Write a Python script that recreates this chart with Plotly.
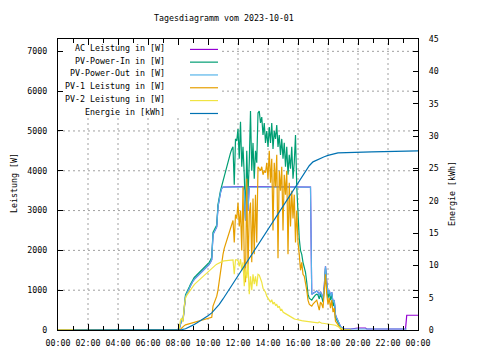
import pandas as pd
import plotly.graph_objects as go

DAY = "2023-10-01"
NEXT = "2023-10-02"

# 5-minute grid 08:00 .. 19:30 (139 samples)
grid = [t.strftime("%Y-%m-%d %H:%M") for t in pd.date_range(f"{DAY} 08:00", f"{DAY} 19:30", freq="5min")]

# ---- series values (W), one row per hour :00 .. :55 ----
pv_in = [
    0, 30, 150, 280, 250, 700, 880, 950, 1000, 1080, 1150, 1220,            # 08
    1280, 1320, 1350, 1380, 1410, 1440, 1470, 1500, 1530, 1560, 1590, 1620,  # 09
    1650, 1700, 1760, 1830, 2450, 2520, 2580, 2640, 3150, 3380, 3500, 3620,  # 10
    3750, 3860, 3960, 4080, 4200, 4330, 4450, 4540, 4600, 3650, 4800, 4750,  # 11
    5050, 4300, 5230, 4100, 4600, 3900, 2800, 4500, 3400, 4200, 5500, 4000,  # 12
    4700, 3800, 4500, 4200, 5450, 5500, 5200, 5350, 4900, 5200, 4700, 5000,  # 13
    4600, 5100, 4700, 5200, 4550, 5000, 4800, 5150, 4600, 4900, 4400, 4800,  # 14
    4300, 4700, 4100, 4600, 3900, 4400, 4050, 4600, 3800, 4200, 4900, 3600,  # 15
    2800, 2300, 2000, 1900, 1700, 1550, 1450, 1200, 900, 800, 780, 750,      # 16
    800, 850, 880, 900, 880, 780, 900, 820, 700, 1000, 1550, 1100,           # 17
    800, 950, 750, 900, 600, 700, 300, 250, 180, 120, 60, 30,                # 18
    10, 0, 0, 0, 0, 0, 0,                                                    # 19:00-19:30
]

pv_out = [
    0, 25, 130, 260, 230, 660, 840, 910, 960, 1040, 1110, 1180,
    1230, 1270, 1300, 1330, 1360, 1390, 1420, 1450, 1480, 1510, 1540, 1570,
    1600, 1650, 1700, 1770, 2400, 2470, 2530, 2590, 3100, 3330, 3450, 3560,
    3590, 3590, 3590, 3590, 3590, 3590, 3590, 3590, 3590, 3590, 3590, 3590,
    3590, 3590, 3590, 3590, 3590, 3500, 2750, 3590, 3000, 3590, 3590, 3590,
    3590, 3590, 3590, 3590, 3590, 3590, 3590, 3590, 3590, 3590, 3590, 3590,
    3590, 3590, 3590, 3590, 3590, 3590, 3590, 3590, 3590, 3590, 3590, 3590,
    3590, 3590, 3590, 3590, 3590, 3590, 3590, 3590, 3590, 3590, 3590, 3590,
    3590, 3590, 3590, 3590, 3590, 3590, 3590, 3590, 3590, 3590, 3590, 900,
    920, 950, 960, 980, 950, 880, 960, 900, 800, 1100, 1600, 1200,
    900, 1000, 850, 950, 700, 750, 380, 300, 220, 150, 90, 60,
    40, 30, 25, 25, 25, 25, 25,
]
pv_out_tail_t = [f"{DAY} 23:15"]
pv_out_tail_v = [25]

ac = [
    0, 25, 130, 260, 230, 660, 840, 910, 960, 1040, 1110, 1180,
    1230, 1270, 1300, 1330, 1360, 1390, 1420, 1450, 1480, 1510, 1540, 1570,
    1600, 1650, 1700, 1770, 2400, 2470, 2530, 2590, 3100, 3330, 3450, 3560,
    3590, 3590, 3590, 3605, 3605, 3605, 3605, 3605, 3605, 3605, 3605, 3605,
    3605, 3605, 3605, 3605, 3605, 3500, 2750, 3605, 3000, 3605, 3605, 3605,
    3605, 3605, 3605, 3605, 3605, 3605, 3605, 3605, 3605, 3605, 3605, 3605,
    3605, 3605, 3605, 3605, 3605, 3605, 3605, 3605, 3605, 3605, 3605, 3605,
    3605, 3605, 3605, 3605, 3605, 3605, 3605, 3605, 3605, 3605, 3605, 3605,
    3605, 3605, 3605, 3605, 3605, 3605, 3605, 3605, 3605, 3605, 3590, 900,
    920, 950, 960, 980, 950, 880, 960, 900, 800, 1100, 1600, 1200,
    900, 1000, 850, 950, 700, 750, 380, 300, 220, 150, 90, 60,
    40, 30, 25, 25, 25, 25, 25,
]
ac_tail_t = [f"{DAY} 20:00", f"{DAY} 20:30", f"{DAY} 20:35", f"{DAY} 23:10", f"{DAY} 23:15", f"{NEXT} 00:00"]
ac_tail_v = [50, 50, 25, 25, 370, 370]

pv1 = [
    0, 0, 20, 60, 90, 110, 130, 140, 150, 160, 170, 180,
    190, 200, 205, 210, 215, 220, 230, 240, 250, 260, 270, 280,
    290, 300, 310, 320, 600, 680, 760, 850, 1000, 1250, 1450, 1700,
    1900, 2050, 2150, 2250, 2350, 2450, 2550, 2650, 2750, 2200, 2900, 2800,
    3200, 2600, 3000, 2000, 3600, 1800, 1200, 3800, 1500, 2900, 3200, 1700,
    3300, 1900, 3400, 2200, 4100, 4050, 4000, 4100, 3900, 4000, 3950, 4200,
    3800, 4500, 3700, 4300, 2500, 4200, 3600, 4400, 1800, 4000, 3500, 4100,
    2500, 3900, 3400, 4000, 1900, 3700, 2600, 3500, 2800, 3400, 2200, 3000,
    2200, 1900, 1500, 1700, 1400, 1350, 1200, 1000, 750, 650, 620, 600,
    650, 700, 720, 750, 600, 500, 700, 650, 550, 900, 1400, 900,
    650, 800, 550, 750, 450, 550, 220, 180, 120, 70, 30, 10,
    0, 0, 0, 0, 0, 0, 0,
]

pv2 = [
    0, 50, 250, 300, 200, 600, 800, 870, 920, 970, 1020, 1070,
    1110, 1140, 1170, 1200, 1230, 1260, 1290, 1320, 1350, 1380, 1410, 1440,
    1470, 1500, 1530, 1560, 1590, 1610, 1630, 1650, 1670, 1690, 1700, 1710,
    1730, 1735, 1740, 1745, 1750, 1750, 1755, 1755, 1760, 1400, 1760, 1760,
    1750, 1600, 1780, 1500, 1700, 1100, 1550, 1300, 1650, 900, 1350, 1000,
    1400, 1150, 1350, 1100, 1400, 1380, 1300, 1200, 1050, 1000, 950, 850,
    800, 780, 700, 760, 650, 700, 620, 640, 560, 600, 500, 520,
    450, 430, 410, 390, 360, 340, 320, 300, 290, 280, 270, 260,
    250, 245, 240, 235, 230, 225, 220, 215, 210, 205, 200, 200,
    195, 190, 190, 185, 180, 200, 175, 170, 170, 165, 160, 160,
    155, 150, 150, 145, 140, 130, 120, 100, 80, 60, 40, 20,
    10, 0, 0, 0, 0, 0, 0,
]

# Energie (kWh), right axis
energy_t = ["01:00", "08:00", "08:15", "08:30", "08:45", "09:00", "09:15", "09:30", "09:45",
            "10:00", "10:15", "10:30", "10:45", "11:00", "11:15", "11:30", "11:45",
            "12:00", "12:15", "12:30", "12:45", "13:00", "13:15", "13:30", "13:45",
            "14:00", "14:15", "14:30", "14:45", "15:00", "15:15", "15:30", "15:45",
            "16:00", "16:15", "16:30", "16:45", "17:00", "17:15", "17:30", "17:45",
            "18:00", "18:15", "18:30", "18:40", "20:55", "22:50", "24:00"]
energy_v = [0, 0, 0.05, 0.2, 0.45, 0.75, 1.1, 1.45, 1.8,
            2.2, 2.65, 3.25, 3.95, 4.8, 5.7, 6.6, 7.5,
            8.4, 9.3, 10.2, 11.0, 11.9, 12.8, 13.7, 14.6,
            15.5, 16.4, 17.3, 18.2, 19.1, 20.0, 20.9, 21.8,
            22.7, 23.6, 24.5, 25.4, 26.0, 26.3, 26.55, 26.8,
            27.0, 27.15, 27.3, 27.4, 27.55, 27.7, 27.7]

labels = ["AC Leistung in [W]", "PV-Power-In in [W]", "PV-Power-Out in [W]",
          "PV-1 Leistung in [W]", "PV-2 Leistung in [W]", "Energie in [kWh]"]
colors = ["#9400d3", "#009e73", "#56b4e9", "#e69f00", "#f0e442", "#0072b2"]

# tick positions
x_grid_hours = [2, 4, 6, 8, 10, 12, 14, 16, 18, 20, 22]
y_grid_vals = [1000, 2000, 3000, 4000, 5000, 6000, 7000]

for s in (pv_in, pv_out, ac, pv1, pv2):
    assert len(s) == len(grid), len(s)

start = [f"{DAY} 00:00"]
def etime(hm):
    return f"{NEXT} 00:00" if hm == "24:00" else f"{DAY} {hm}"

series = [
    (start + grid + ac_tail_t, [0] + ac + ac_tail_v, "y"),
    (start + grid, [0] + pv_in, "y"),
    (start + grid + pv_out_tail_t, [0] + pv_out + pv_out_tail_v, "y"),
    (start + grid, [0] + pv1, "y"),
    (start + grid, [0] + pv2, "y"),
    ([etime(h) for h in energy_t], energy_v, "y2"),
]

FONT = "DejaVu Sans Mono"
FS = 8.3
fig = go.Figure()
for (x, y, ax), name, col in zip(series, labels, colors):
    fig.add_trace(go.Scatter(x=x, y=y, yaxis=ax, mode="lines", name=name,
                             line=dict(color=col, width=1.2), showlegend=False))

# page body has an 8px default margin -> shift figure by -8
OFF = 8
W, H = 480 - OFF, 360 - OFF
L, R, T, B = 58, 418, 39, 332   # plot area in reference pixels
YMAX = 7310
def px(xp):
    return (xp - L) / (R - L)
def py(yp):
    return (B - yp) / (B - T)

tickfont = dict(family=FONT, size=FS, color="black")

fig.update_layout(
    width=W, height=H,
    margin=dict(l=L - OFF, r=480 - R, t=T - OFF, b=360 - B),
    paper_bgcolor="white", plot_bgcolor="white",
    font=dict(family=FONT, size=FS, color="black"),
    xaxis=dict(type="date", range=[f"{DAY} 00:00", f"{NEXT} 00:00"],
               tickformat="%H:%M", dtick=7200000, tick0=f"{DAY} 00:00",
               ticks="inside", ticklen=6, tickcolor="black",
               showline=True, linecolor="black", linewidth=1, mirror="ticks",
               minor=dict(dtick=3600000, ticks="inside", ticklen=4, tickcolor="black", showgrid=False),
               tickfont=tickfont, zeroline=False, ticklabelstandoff=5, showgrid=False),
    yaxis=dict(range=[0, YMAX], dtick=1000, tick0=0, ticks="inside", ticklen=5,
               tickcolor="black", showline=True, linecolor="black", linewidth=1,
               mirror="ticks", tickfont=tickfont, zeroline=False, ticklabelstandoff=8,
               showgrid=False),
    yaxis2=dict(range=[0, 45], dtick=5, tick0=0, overlaying="y", side="right",
                ticks="inside", ticklen=5, tickcolor="black", showline=True,
                linecolor="black", linewidth=1, showgrid=False, zeroline=False,
                tickfont=tickfont, ticklabelstandoff=8),
)

# dashed grid, interrupted by the key box (upper left)
KEY_R, KEY_B = 222, 118
gline = dict(color="#a0a0a0", width=1, dash="2px,3px")
shapes = []
for h in x_grid_hours:
    xv = f"{DAY} {h:02d}:00"
    xpix = L + h * 15
    top = py(KEY_B) if xpix < KEY_R else 1
    shapes.append(dict(type="line", xref="x", yref="paper", x0=xv, x1=xv, y0=0, y1=top,
                       line=gline, layer="below"))
for v in y_grid_vals:
    ypix = B - v / YMAX * (B - T)
    left = px(KEY_R) if ypix < KEY_B else 0
    shapes.append(dict(type="line", xref="paper", yref="y", x0=left, x1=1, y0=v, y1=v,
                       line=gline, layer="below"))

annotations = []
rows_line = [49.5, 62.3, 75.2, 88.1, 101, 114]
for name, col, yl in zip(labels, colors, rows_line):
    shapes.append(dict(type="line", xref="paper", yref="paper", x0=px(190), x1=px(218),
                       y0=py(yl), y1=py(yl), line=dict(color=col, width=1.2), layer="above"))
    annotations.append(dict(text=name, xref="paper", yref="paper", x=px(167), y=py(yl - 1.5),
                            xanchor="right", yanchor="middle", showarrow=False,
                            font=dict(family=FONT, size=FS, color="black")))

annotations.append(dict(text="Tagesdiagramm vom 2023-10-01", xref="paper", yref="paper",
                        x=px(224), y=py(18), xanchor="center", yanchor="middle", showarrow=False,
                        font=dict(family=FONT, size=FS, color="black")))
annotations.append(dict(text="Leistung [W]", xref="paper", yref="paper", x=px(14), y=py(184),
                        xanchor="center", yanchor="middle", textangle=-90, showarrow=False,
                        font=dict(family=FONT, size=FS, color="black")))
annotations.append(dict(text="Energie [kWh]", xref="paper", yref="paper", x=px(452), y=py(195),
                        xanchor="center", yanchor="middle", textangle=-90, showarrow=False,
                        font=dict(family=FONT, size=FS, color="black")))

fig.update_layout(shapes=shapes, annotations=annotations)
fig.write_html("out.html")
